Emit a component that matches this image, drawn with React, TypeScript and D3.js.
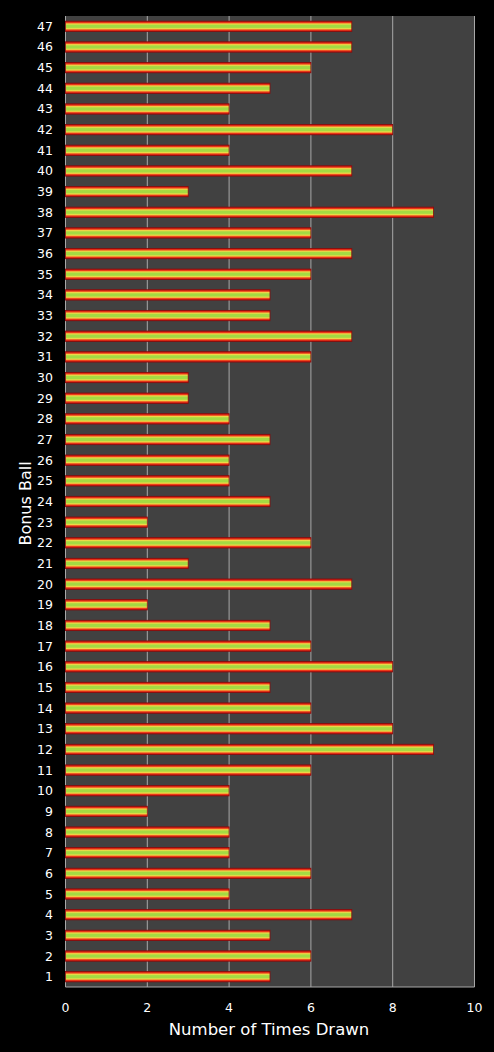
import React from "react";
import * as d3 from "d3";

const balls: number[] = Array.from({ length: 47 }, (_, i) => i + 1);
const counts: number[] = [
  5, 6, 5, 7, 4, 6, 4, 4, 2, 4, // 1-10
  6, 9, 8, 6, 5, 8, 6, 5, 2, 7, // 11-20
  3, 6, 2, 5, 4, 4, 5, 4, 3, 3, // 21-30
  6, 7, 5, 5, 6, 7, 6, 9, 3, 7, // 31-40
  4, 8, 4, 5, 6, 7, 7, // 41-47
];
const xTicks: number[] = [0, 2, 4, 6, 8, 10];

const W = 494;
const H = 1052;
const left = 65.5;
const right = 474.5;
const top = 16;
const bottom = 987;
const font = "Tahoma, 'DejaVu Sans', Verdana, sans-serif";

export default function App() {
  const x = d3.scaleLinear().domain([0, 10]).range([left, right]);
  const y = d3
    .scaleBand<number>()
    .domain([...balls].reverse())
    .range([top, bottom])
    .paddingInner(0.5)
    .paddingOuter(0.25);
  const bh = y.bandwidth();

  return (
    <div style={{ position: "fixed", left: 0, top: 0, width: W, height: H, background: "#000" }}>
      <svg width={W} height={H} style={{ display: "block" }}>
        <defs>
          <linearGradient id="barGrad" x1="0" y1="0" x2="0" y2="1">
            <stop offset="0%" stopColor="#b81010" />
            <stop offset="14%" stopColor="#f03818" />
            <stop offset="27%" stopColor="#f0d848" />
            <stop offset="40%" stopColor="#a4da42" />
            <stop offset="60%" stopColor="#a4da42" />
            <stop offset="73%" stopColor="#f0d848" />
            <stop offset="86%" stopColor="#f03818" />
            <stop offset="100%" stopColor="#b81010" />
          </linearGradient>
        </defs>
        <rect x={0} y={0} width={W} height={H} fill="#000" />
        <rect x={left} y={top} width={right - left} height={bottom - top} fill="#414141" />
        {xTicks.slice(1).map((t) => (
          <line key={t} x1={x(t)} x2={x(t)} y1={top} y2={bottom} stroke="#a8a8a8" strokeWidth={1} />
        ))}
        <line x1={left} x2={right} y1={bottom} y2={bottom} stroke="#a8a8a8" strokeWidth={1} />
        <line x1={left} x2={left} y1={top} y2={bottom} stroke="#a8a8a8" strokeWidth={1} />
        {balls.map((b, i) => (
          <rect
            key={b}
            x={x(0)}
            y={y(b)!}
            width={x(counts[i]) - x(0)}
            height={bh}
            fill="url(#barGrad)"
            stroke="#8a0a0a"
            strokeWidth={0.8}
          />
        ))}
        {balls.map((b) => (
          <text
            key={b}
            x={53}
            y={y(b)! + bh / 2}
            textAnchor="end"
            dominantBaseline="central"
            fill="#fff"
            fontFamily={font}
            fontSize={12.5}
          >
            {b}
          </text>
        ))}
        {xTicks.map((t) => (
          <text
            key={t}
            x={x(t)}
            y={1007}
            textAnchor="middle"
            dominantBaseline="central"
            fill="#fff"
            fontFamily={font}
            fontSize={12.5}
          >
            {t}
          </text>
        ))}
        <text
          x={(left + right) / 2 - 1}
          y={1029}
          textAnchor="middle"
          dominantBaseline="central"
          fill="#fff"
          fontFamily={font}
          fontSize={16.5}
        >
          Number of Times Drawn
        </text>
        <text
          transform={`translate(25, ${(top + bottom) / 2 + 2}) rotate(-90)`}
          textAnchor="middle"
          dominantBaseline="central"
          fill="#fff"
          fontFamily={font}
          fontSize={16}
        >
          Bonus Ball
        </text>
      </svg>
    </div>
  );
}
